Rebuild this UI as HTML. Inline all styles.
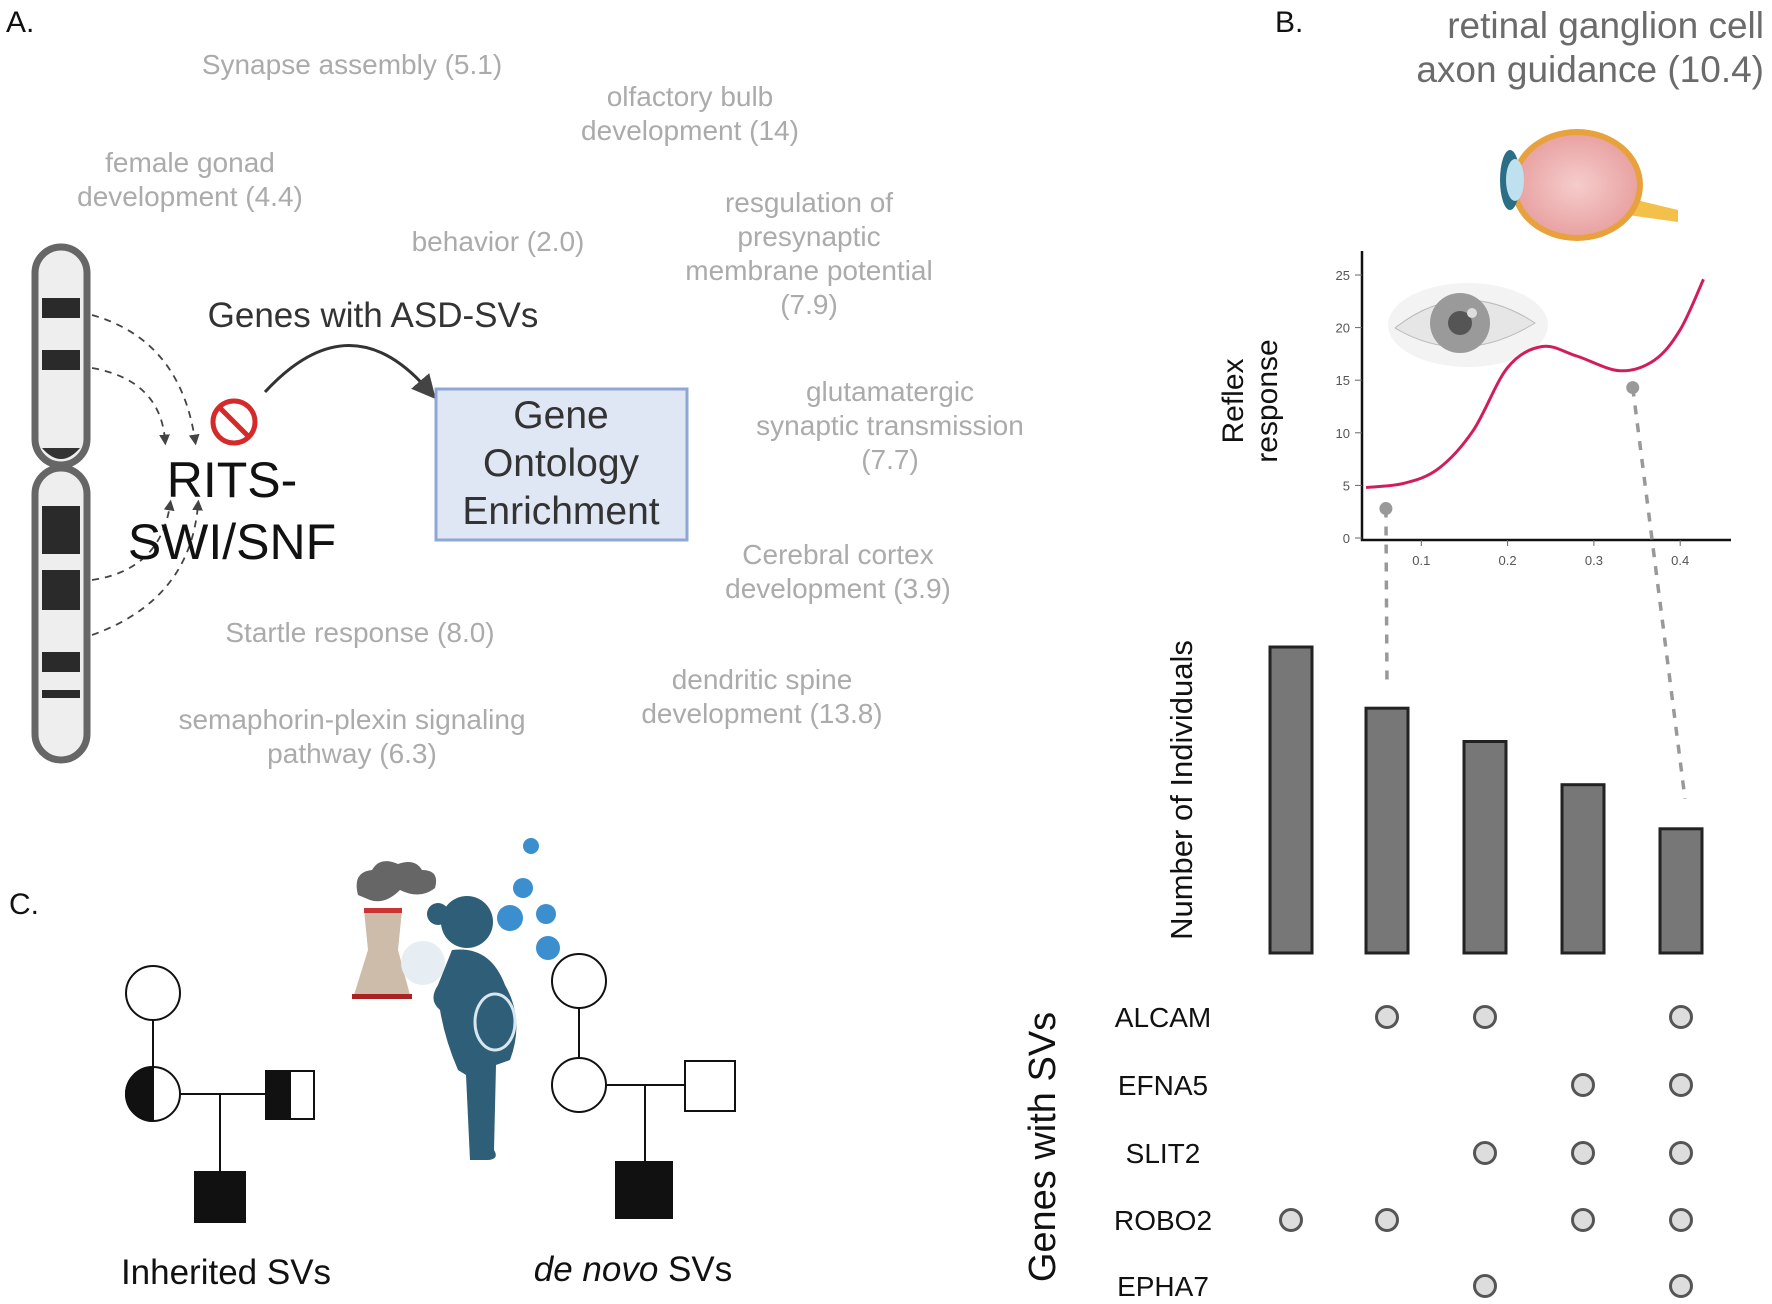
<!DOCTYPE html>
<html><head><meta charset="utf-8">
<style>
html,body{margin:0;padding:0;background:#fff;}
svg{display:block;font-family:"Liberation Sans",Arial,sans-serif;}
.term{fill:#ababab;font-size:28px;text-anchor:middle;}
</style></head>
<body>
<svg id="fig" width="1772" height="1304" viewBox="0 0 1772 1304" xmlns="http://www.w3.org/2000/svg">
<defs>
<marker id="ah" markerWidth="8" markerHeight="8" refX="4" refY="4" orient="auto"><path d="M0,0 L8,4 L0,8 z" fill="#444"/></marker>
<marker id="ah2" markerWidth="6" markerHeight="6" refX="3" refY="3" orient="auto"><path d="M0,0 L6,3 L0,6 z" fill="#444"/></marker>
<radialGradient id="eyeg" cx="50%" cy="50%" r="50%"><stop offset="0" stop-color="#f6cccc"/><stop offset="1" stop-color="#e9a3a3"/></radialGradient>
</defs>

<!-- Panel A -->
<text x="6" y="32" font-size="30" fill="#111">A.</text>
<g>
<text class="term" x="352" y="74">Synapse assembly (5.1)</text>
<text class="term" x="690" y="106"><tspan x="690">olfactory bulb</tspan><tspan x="690" dy="34">development (14)</tspan></text>
<text class="term" x="190" y="172"><tspan x="190">female gonad</tspan><tspan x="190" dy="34">development (4.4)</tspan></text>
<text class="term" x="498" y="251">behavior (2.0)</text>
<text class="term" x="809" y="212"><tspan x="809">resgulation of</tspan><tspan x="809" dy="34">presynaptic</tspan><tspan x="809" dy="34">membrane potential</tspan><tspan x="809" dy="34">(7.9)</tspan></text>
<text class="term" x="890" y="401"><tspan x="890">glutamatergic</tspan><tspan x="890" dy="34">synaptic transmission</tspan><tspan x="890" dy="34">(7.7)</tspan></text>
<text class="term" x="838" y="564"><tspan x="838">Cerebral cortex</tspan><tspan x="838" dy="34">development (3.9)</tspan></text>
<text class="term" x="360" y="642">Startle response (8.0)</text>
<text class="term" x="762" y="689"><tspan x="762">dendritic spine</tspan><tspan x="762" dy="34">development (13.8)</tspan></text>
<text class="term" x="352" y="729"><tspan x="352">semaphorin-plexin signaling</tspan><tspan x="352" dy="34">pathway  (6.3)</tspan></text>
</g>

<g>
<rect x="35" y="247" width="52" height="218" rx="26" fill="#eee" stroke="#666" stroke-width="7"/>
<rect x="35" y="468" width="52" height="292" rx="26" fill="#eee" stroke="#666" stroke-width="7"/>
<rect x="42" y="298" width="38" height="20" fill="#2a2a2a"/>
<rect x="42" y="350" width="38" height="20" fill="#2a2a2a"/>
<path d="M42,448 Q61,470 80,448 Z" fill="#333"/>
<rect x="42" y="506" width="38" height="48" fill="#2a2a2a"/>
<rect x="42" y="570" width="38" height="40" fill="#2a2a2a"/>
<rect x="42" y="652" width="38" height="20" fill="#2a2a2a"/>
<rect x="42" y="690" width="38" height="8" fill="#2a2a2a"/>
</g>
<g fill="none" stroke="#444" stroke-width="1.8" stroke-dasharray="7,6">
<path d="M92,315 Q180,340 195,440" marker-end="url(#ah2)"/>
<path d="M92,368 Q160,380 165,440" marker-end="url(#ah2)"/>
<path d="M92,580 Q160,570 170,505" marker-end="url(#ah2)"/>
<path d="M92,635 Q190,600 198,505" marker-end="url(#ah2)"/>
</g>
<g>
<circle cx="234" cy="422" r="21" fill="none" stroke="#d42a2a" stroke-width="5"/>
<line x1="220" y1="408" x2="248" y2="436" stroke="#d42a2a" stroke-width="5"/>
</g>
<text x="232" y="497" font-size="50" text-anchor="middle" fill="#111"><tspan x="232">RITS-</tspan><tspan x="232" dy="62">SWI/SNF</tspan></text>
<text x="373" y="327" font-size="35" text-anchor="middle" fill="#333">Genes with ASD-SVs</text>
<path d="M265,392 Q350,300 428,390" fill="none" stroke="#333" stroke-width="3" marker-end="url(#ah)"/>
<g>
<rect x="436" y="389" width="251" height="151" fill="#dfe6f4" stroke="#8ea7d6" stroke-width="3"/>
<text x="561" y="428" font-size="39" text-anchor="middle" fill="#333"><tspan x="561">Gene</tspan><tspan x="561" dy="48">Ontology</tspan><tspan x="561" dy="48">Enrichment</tspan></text>
</g>

<!-- Panel B -->
<text x="1275" y="32" font-size="30" fill="#111">B.</text>
<text x="1764" y="38" font-size="37" text-anchor="end" fill="#6b6b6b"><tspan x="1764">retinal ganglion cell</tspan><tspan x="1764" dy="44">axon guidance (10.4)</tspan></text>
<g>
<path d="M1620,196 L1678,210 L1678,222 L1620,214 Z" fill="#f3c04a"/>
<ellipse cx="1577" cy="185" rx="66" ry="56" fill="#e8a23c"/>
<ellipse cx="1577" cy="185" rx="60" ry="50" fill="url(#eyeg)"/>
<ellipse cx="1510" cy="180" rx="10" ry="30" fill="#2b6f86"/>
<ellipse cx="1515" cy="180" rx="9" ry="21" fill="#bfe0ee"/>
</g>
<g>
<ellipse cx="1468" cy="325" rx="80" ry="42" fill="#f3f3f3"/>
<path d="M1395,328 Q1462,275 1535,323 Q1462,368 1395,328 Z" fill="#e6e6e6" stroke="#bbb"/>
<circle cx="1460" cy="323" r="30" fill="#9a9a9a"/>
<circle cx="1460" cy="323" r="12" fill="#555"/>
<circle cx="1472" cy="313" r="5" fill="#ddd"/>
</g>
<g id="lineChart"></g>
<text transform="translate(1243,401) rotate(-90)" font-size="30" text-anchor="middle" fill="#111"><tspan x="0">Reflex</tspan><tspan x="0" dy="34">response</tspan></text>

<g id="upset"></g>
<text transform="translate(1192,790) rotate(-90)" font-size="31" text-anchor="middle" fill="#111">Number of Individuals</text>
<text transform="translate(1055,1147) rotate(-90)" font-size="38" text-anchor="middle" fill="#111">Genes with SVs</text>

<!-- Panel C -->
<text x="9" y="914" font-size="30" fill="#111">C.</text>
<g stroke="#111" stroke-width="2" fill="#fff">
<line x1="153" y1="1020" x2="153" y2="1066"/>
<line x1="181" y1="1094" x2="266" y2="1094"/>
<line x1="220" y1="1094" x2="220" y2="1172"/>
<circle cx="153" cy="993" r="27"/>
<circle cx="153" cy="1094" r="27"/>
<path d="M153,1067 A27,27 0 0 0 153,1121 Z" fill="#111"/>
<rect x="266" y="1071" width="48" height="48"/>
<rect x="266" y="1071" width="24" height="48" fill="#111"/>
<rect x="195" y="1172" width="50" height="50" fill="#111"/>
</g>
<text x="226" y="1284" font-size="35" text-anchor="middle" fill="#111">Inherited SVs</text>
<g>
<path d="M358,895 Q352,872 372,870 Q380,856 398,864 Q415,858 422,870 Q440,870 435,888 Q420,900 400,890 Q385,905 370,900 Z" fill="#666"/>
<path d="M364,910 L402,910 L398,950 L410,995 L354,995 L368,950 Z" fill="#cdbcaa"/>
<rect x="364" y="908" width="38" height="5" fill="#c33"/>
<rect x="352" y="994" width="60" height="5" fill="#a22"/>
<circle cx="423" cy="963" r="22" fill="#e6eef3"/>
<circle cx="467" cy="922" r="26" fill="#2f5e78"/>
<circle cx="438" cy="914" r="11" fill="#2f5e78"/>
<path d="M452,950 Q490,945 505,985 Q525,1020 510,1060 L496,1065 L494,1150 Q500,1160 486,1160 L470,1160 L466,1075 L458,1070 Q445,1040 440,1010 Q428,1000 438,985 Z" fill="#2f5e78"/>
<ellipse cx="495" cy="1022" rx="20" ry="28" fill="none" stroke="#d8e6ee" stroke-width="3"/>
<g fill="#3b8fcf">
<circle cx="531" cy="846" r="8"/><circle cx="523" cy="888" r="10"/><circle cx="510" cy="918" r="13"/>
<circle cx="546" cy="914" r="10"/><circle cx="548" cy="948" r="12"/>
</g>
</g>
<g stroke="#111" stroke-width="2" fill="#fff">
<line x1="579" y1="1008" x2="579" y2="1057"/>
<line x1="607" y1="1085" x2="685" y2="1085"/>
<line x1="645" y1="1085" x2="645" y2="1162"/>
<circle cx="579" cy="981" r="27"/>
<circle cx="579" cy="1085" r="27"/>
<rect x="685" y="1061" width="50" height="50"/>
<rect x="616" y="1162" width="56" height="56" fill="#111"/>
</g>
<text x="633" y="1281" font-size="35" text-anchor="middle" fill="#111"><tspan font-style="italic">de novo</tspan> SVs</text>
</svg>

<script>
var NS = "http://www.w3.org/2000/svg";
// ---- line chart data ----
var curveX = [0.036,0.08,0.12,0.16,0.2,0.24,0.28,0.33,0.37,0.4,0.427];
var curveY = [4.8,5.2,6.6,10.2,16.2,18.2,17.3,15.9,16.9,19.8,24.6];
var pointX = [0.059,0.345];
var pointY = [2.8,14.3];
var yTicks = [0,5,10,15,20,25];
var xTicks = [0.1,0.2,0.3,0.4];
// ---- upset data ----
var combos = ["robo2","alcam-robo2","alcam-slit2-epha7","efna5-slit2-robo2","all"];
var counts = [34,27.2,23.5,18.7,13.8];
var genes = ["ALCAM","EFNA5","SLIT2","ROBO2","EPHA7"];
var membership = [
  [0,1,1,0,1],
  [0,0,0,1,1],
  [0,0,1,1,1],
  [1,1,0,1,1],
  [0,0,1,0,1]
];
var linkedCombo = [1,4];

function mk(tag, attrs, parent){var e=document.createElementNS(NS,tag);for(var k in attrs)e.setAttribute(k,attrs[k]);parent.appendChild(e);return e;}

function lx(v){return 1335 + v*863;}
function ly(v){return 538 - v*10.52;}
var lc = document.getElementById('lineChart');
var ax = mk('path',{d:'M1362,251 L1362,540 L1731,540',fill:'none',stroke:'#111','stroke-width':2.5},lc);


yTicks.forEach(function(t){
  var l=mk('line',{x1:1355,x2:1362,y1:ly(t),y2:ly(t),stroke:'#666','stroke-width':1},lc);
  
  
  var tx=mk('text',{x:1350,y:ly(t)+5,'font-size':13,'text-anchor':'end',fill:'#555'},lc);
  tx.textContent=t;
  
  
});
xTicks.forEach(function(t){
  var l=mk('line',{x1:lx(t),x2:lx(t),y1:540,y2:546,stroke:'#666','stroke-width':1},lc);
  
  
  var tx=mk('text',{x:lx(t),y:565,'font-size':13,'text-anchor':'middle',fill:'#555'},lc);
  tx.textContent=t;
  
  
});
var pts = curveX.map(function(x,i){return [lx(x),ly(curveY[i])];});
var d = 'M'+pts[0][0]+','+pts[0][1];
for(var i=0;i<pts.length-1;i++){
  var p0=pts[Math.max(i-1,0)],p1=pts[i],p2=pts[i+1],p3=pts[Math.min(i+2,pts.length-1)];
  var c1=[p1[0]+(p2[0]-p0[0])/6,p1[1]+(p2[1]-p0[1])/6];
  var c2=[p2[0]-(p3[0]-p1[0])/6,p2[1]-(p3[1]-p1[1])/6];
  d+=' C'+c1[0]+','+c1[1]+' '+c2[0]+','+c2[1]+' '+p2[0]+','+p2[1];
}
var cv = mk('path',{d:d,fill:'none',stroke:'#d21d5c','stroke-width':3},lc);



var up = document.getElementById('upset');
var colX = [1291,1387,1485,1583,1681];
var rowY = [1017,1085,1153,1220,1286];
var barBase = 953, barScale = 9, barW = 42;
counts.forEach(function(c,i){
  var h=c*barScale;
  var r=mk('rect',{x:colX[i]-barW/2,y:barBase-h,width:barW,height:h,fill:'#777',stroke:'#222','stroke-width':3},up);
  
  
});
pointX.forEach(function(x,k){
  var bi=linkedCombo[k];
  var x1=lx(x),y1=ly(pointY[k]);
  var ln=mk('line',{x1:x1,y1:y1,x2:colX[bi]+(k?4:0),y2:barBase-counts[bi]*barScale-(k?30:24),stroke:'#999','stroke-width':3.5,'stroke-dasharray':'9,9'},up);
  
  
  var pc=mk('circle',{cx:x1,cy:y1,r:6.5,fill:'#999'},up);
  
  
});
genes.forEach(function(g,r){
  var t=mk('text',{x:1163,y:rowY[r]+10,'font-size':28,'text-anchor':'middle',fill:'#111'},up);
  t.textContent=g;
  
  
  membership[r].forEach(function(m,c){
    if(!m) return;
    var dt=mk('circle',{cx:colX[c],cy:rowY[r],r:10.5,fill:'#ddd',stroke:'#555','stroke-width':3},up);
    
    
  });
});
</script>
</body></html>
